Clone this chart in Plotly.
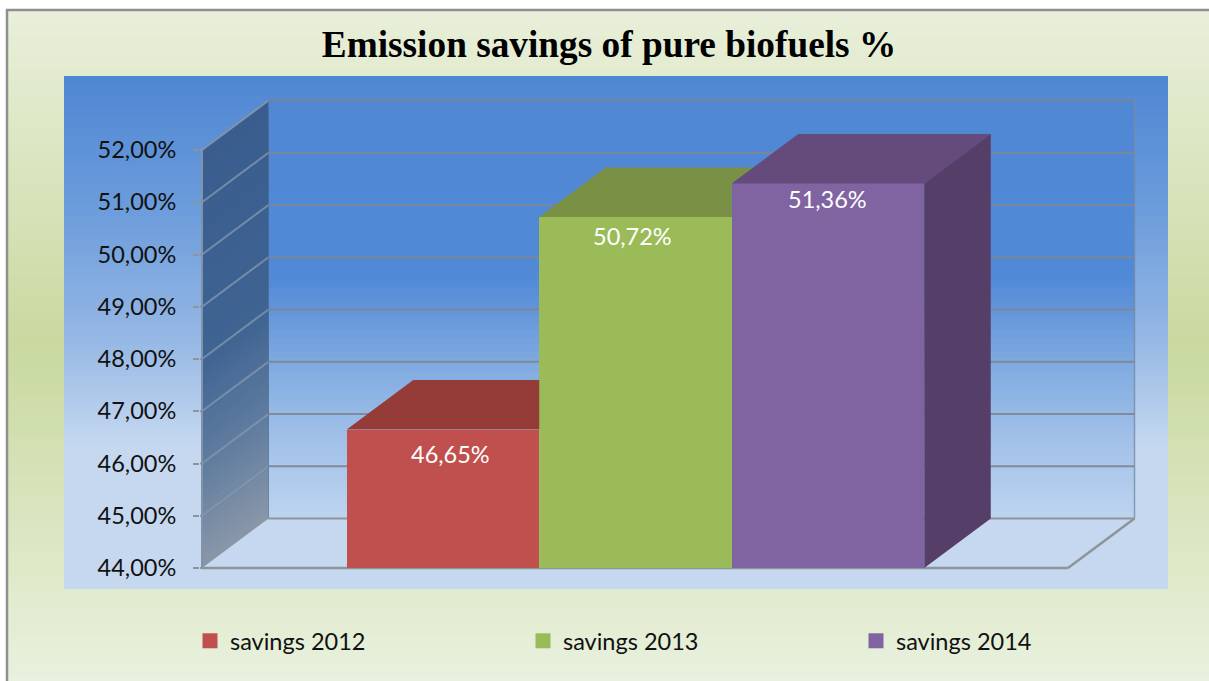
import plotly.graph_objects as go

# ---- data ----
series_names = ["savings 2012", "savings 2013", "savings 2014"]
series_values = [46.65, 50.72, 51.36]
tick_values = [44, 45, 46, 47, 48, 49, 50, 51, 52]
tick_labels = ["44,00%", "45,00%", "46,00%", "47,00%", "48,00%", "49,00%", "50,00%", "51,00%", "52,00%"]
title_text = "Emission savings of pure biofuels %"

# ---- styles ----
front_colors = ["#C0504D", "#9BBB59", "#8064A2"]
top_colors = ["#953C39", "#7A9145", "#654A7C"]
side_color = "#553E68"
grid_color = "rgba(125,135,150,0.95)"
wall_grid_color = "rgba(130,150,175,0.8)"
edge_color = "#8E9599"
label_xshift = [7.5, -3.5, -0.5]
label_yshift = [-24.5, -19.5, -15.5]

# ---- layout geometry (pixels) ----
W, H = 1209, 681
L, R, T, B = 200, 1137, 97, 572
PX_PER_X = 192.5
PX_PER_Y = 52.25
X0_PX = 443.0    # centre of the first bar
Y44_PX = 568.0   # axis base
DX = 66.5 / PX_PER_X
DY = 49.5 / PX_PER_Y
x_range = [(L - X0_PX) / PX_PER_X, (R - X0_PX) / PX_PER_X]
y_range = [44 - (B - Y44_PX) / PX_PER_Y, 44 + (Y44_PX - T) / PX_PER_Y]
wall_left = (202 - X0_PX) / PX_PER_X
floor_right = (1068 - X0_PX) / PX_PER_X
BASE = tick_values[0]
TOP = tick_values[-1]


def hx(c):
    return [int(c[i:i + 2], 16) for i in (1, 3, 5)]


def grad(stops, t):
    for (t0, c0), (t1, c1) in zip(stops, stops[1:]):
        if t <= t1:
            f = (t - t0) / (t1 - t0) if t1 > t0 else 0
            a, b = hx(c0), hx(c1)
            return "rgb(%d,%d,%d)" % tuple(round(p + (q - p) * f) for p, q in zip(a, b))
    return stops[-1][1]


def pxx(p):
    return (p - L) / (R - L)


def pxy(p):
    return (B - p) / (B - T)


shapes = []


def page_bands(x0, x1, y0, y1, stops, step=5):
    y = y0
    while y < y1:
        t = (y + step / 2 - y0) / (y1 - y0)
        shapes.append(dict(type="rect", xref="paper", yref="paper", layer="below",
                           x0=pxx(x0), x1=pxx(x1), y0=pxy(y), y1=pxy(y1),
                           fillcolor=grad(stops, t), line_width=0))
        y += step


# page background and frame
page_bands(8, W, 11, H, [(0, "#E9EFDA"), (0.5, "#C9D9A0"), (1, "#E9F1DE")], step=5)
shapes.append(dict(type="line", xref="paper", yref="paper", layer="below",
                   x0=pxx(6), x1=pxx(W), y0=pxy(10), y1=pxy(10), line=dict(color="#8F9090", width=2.5)))
shapes.append(dict(type="line", xref="paper", yref="paper", layer="below",
                   x0=pxx(7), x1=pxx(7), y0=pxy(9), y1=pxy(H), line=dict(color="#8F9090", width=2.5)))
# chart area
page_bands(64, 1168, 76, 589, [(0, "#4F87D3"), (0.25, "#6A9BDB"), (0.5, "#93B6E4"), (0.72, "#C5D8F0"), (1, "#C5D8F0")], step=5)


def path(points):
    return "M" + "L".join(f"{x},{y}" for x, y in points) + "Z"


def data_poly(points, color):
    shapes.append(dict(type="path", xref="x", yref="y", layer="below", path=path(points),
                       fillcolor=color, line_width=0))


def data_line(x0, y0, x1, y1, color, width):
    shapes.append(dict(type="line", xref="x", yref="y", layer="below", x0=x0, y0=y0, x1=x1, y1=y1,
                       line=dict(color=color, width=width)))


# back wall gradient
back_stops = [(0, "#5088D4"), (0.42, "#5089D6"), (0.62, "#7EA9E0"), (0.82, "#A3C1E9"), (1, "#BDD4F0")]
n = 60
back_left = wall_left + DX
back_right = floor_right + DX
for i in range(n):
    a = TOP + DY - (TOP + DY - BASE - DY) * i / n
    data_poly([(back_left, a), (back_right, a), (back_right, BASE + DY), (back_left, BASE + DY)],
              grad(back_stops, (i + 0.5) / n))

# left wall gradient
wall_stops = [(0, "#395D8E"), (0.5, "#3F6492"), (0.75, "#5F7C9F"), (1, "#8A97A8")]
for i in range(n):
    t0 = i / n
    a = TOP - (TOP - BASE) * t0
    data_poly([(wall_left, a), (back_left, a + DY), (back_left, BASE + DY), (wall_left, BASE)],
              grad(wall_stops, (i + 0.5) / n))

# floor
data_poly([(wall_left, BASE), (back_left, BASE + DY), (back_right, BASE + DY), (floor_right, BASE)], "#C5D8F0")

# gridlines on the walls, from the axis ticks
for v in tick_values:
    data_line(x_range[0], v, wall_left, v, edge_color, 2)
    if v > BASE:
        data_line(wall_left, v, back_left, v + DY, wall_grid_color, 2)
    data_line(back_left, v + DY, back_right, v + DY, grid_color if v > BASE else edge_color, 2.2)

# box edges
data_line(back_left, TOP + DY, back_right, TOP + DY, "#6F84A0", 2.2)
data_line(wall_left, TOP, back_left, TOP + DY, "#7F93AC", 1.5)
data_line(wall_left, BASE, wall_left, TOP, "#8193A8", 2)
data_line(back_right, BASE + DY, back_right, TOP + DY, "rgba(120,140,165,0.8)", 1.5)
data_line(back_left, BASE + DY, back_left, TOP + DY, "rgba(90,120,160,0.5)", 1)
data_line(wall_left, BASE, floor_right, BASE, edge_color, 2.5)
data_line(floor_right, BASE, back_right, BASE + DY, edge_color, 2.5)

fig = go.Figure()

# top faces (clipped where the neighbouring bar hides them) and the last bar's side face
for i, v in enumerate(series_values):
    left, right = i - 0.5, i + 0.5
    top = v + DY
    if i + 1 < len(series_values):
        nv = series_values[i + 1]
        f = min(max((top - nv) / DY, 0), 1)
        pts = [(left, v), (left + DX, top), (right + DX * f, top)]
        if f > 0:
            pts.append((right, nv))
        pts.append((right, v))
    else:
        pts = [(left, v), (left + DX, top), (right + DX, top), (right, v)]
    fig.add_trace(go.Scatter(x=[p[0] for p in pts] + [pts[0][0]], y=[p[1] for p in pts] + [pts[0][1]],
                             mode="lines", fill="toself", fillcolor=top_colors[i], line=dict(width=0),
                             showlegend=False, hoverinfo="skip"))

last = len(series_values) - 0.5
side_x = [last, last + DX, last + DX, last, last]
side_y = [BASE, BASE + DY, series_values[-1] + DY, series_values[-1], BASE]
fig.add_trace(go.Scatter(x=side_x, y=side_y, mode="lines", fill="toself", fillcolor=side_color,
                         line=dict(width=0), showlegend=False, hoverinfo="skip"))

# front faces
for i, (name, v) in enumerate(zip(series_names, series_values)):
    fig.add_trace(go.Bar(x=[i], y=[v - BASE], base=BASE, width=1, name=name, showlegend=False,
                         marker=dict(color=front_colors[i], line_width=0)))
    # legend swatch
    fig.add_trace(go.Scatter(x=[None], y=[None], mode="markers", name=name,
                             marker=dict(symbol="square", size=15, color=front_colors[i])))

annotations = [dict(x=i, y=v, xref="x", yref="y", xshift=label_xshift[i], yshift=label_yshift[i], showarrow=False,
                    text=f"{v:.2f}%".replace(".", ","), font=dict(family="Lato", size=23.5, color="white"))
               for i, v in enumerate(series_values)]

fig.update_layout(
    width=W, height=H, autosize=False,
    margin=dict(l=L, r=W - R, t=T, b=H - B, pad=0),
    paper_bgcolor="white", plot_bgcolor="rgba(0,0,0,0)",
    barmode="overlay", bargap=0,
    title=dict(text=f"<b>{title_text}</b>", x=pxx(609), xanchor="center", xref="paper",
               y=1 - 44 / H, yanchor="middle",
               font=dict(family="Liberation Serif", size=37.3, color="black")),
    xaxis=dict(range=x_range, visible=False, fixedrange=True),
    yaxis=dict(range=y_range, tickmode="array", tickvals=tick_values, ticktext=tick_labels,
               showgrid=False, zeroline=False, showline=False, ticks="outside", ticklen=6, tickwidth=2,
               tickcolor=edge_color, ticklabelstandoff=12,
               tickfont=dict(family="Lato", size=23.5, color="#111111"), fixedrange=True),
    legend=dict(orientation="h", x=pxx(190), xanchor="left", y=pxy(641), yanchor="middle",
                entrywidth=288, entrywidthmode="pixels", bgcolor="rgba(0,0,0,0)",
                font=dict(family="Lato", size=23.5, color="#111111"), itemclick=False, itemdoubleclick=False),
    shapes=shapes,
    annotations=annotations,
)

fig.write_html("out.html", config=dict(displayModeBar=False),
               post_script="document.body.style.margin='0';document.body.style.overflow='hidden';")
